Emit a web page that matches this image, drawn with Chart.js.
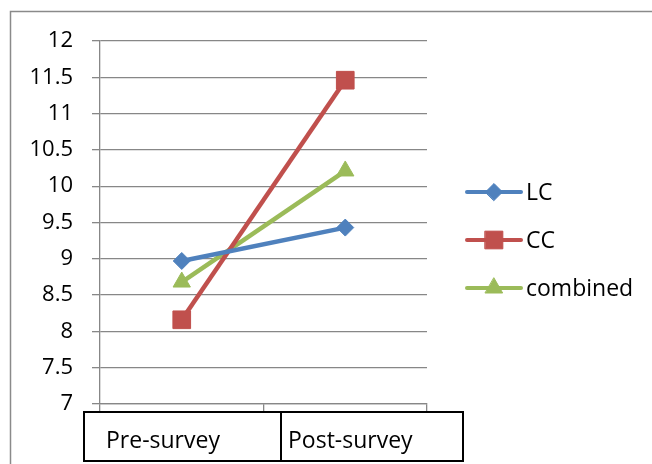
<!DOCTYPE html>
<html>
<head>
<meta charset="utf-8">
<script src="https://cdn.jsdelivr.net/npm/chart.js@4/dist/chart.umd.min.js"></script>
<style>
  html, body { margin: 0; padding: 0; background: #fff; }
  #wrap { width: 652px; height: 464px; position: relative; }
</style>
</head>
<body>
<div id="wrap"><canvas id="chart"></canvas></div>
<script>
// Survey scores, pre vs post
const categories = ['Pre-survey', 'Post-survey'];
const lcValues = [8.97, 9.43];
const ccValues = [8.16, 11.46];
const combinedValues = [8.68, 10.21];
const seriesNames = ['LC', 'CC', 'combined'];
const yMin = 7;
const yMax = 12;
const yStep = 0.5;

const FONT = '"Open Sans", "Noto Sans", sans-serif';
const GRID = '#878787';

// outer frame + category table under the axis
const framePlugin = {
  id: 'frame',
  afterDraw(chart) {
    const ctx = chart.ctx;
    const x = chart.scales.x;
    ctx.save();
    ctx.strokeStyle = '#8a8a8a';
    ctx.lineWidth = 1.5;
    ctx.beginPath();
    ctx.moveTo(10.5, chart.height + 2);
    ctx.lineTo(10.5, 11.5);
    ctx.lineTo(chart.width + 2, 11.5);
    ctx.stroke();

    // table with category names
    const top = x.top + 8;
    const left = x.left - 16;
    const mid = x.left + 181;
    const right = x.right + 36;
    const bottom = chart.height - 3;
    ctx.strokeStyle = '#000';
    ctx.lineWidth = 2;
    ctx.strokeRect(left, top, right - left, bottom - top);
    ctx.beginPath();
    ctx.moveTo(mid, top);
    ctx.lineTo(mid, bottom);
    ctx.stroke();
    ctx.fillStyle = '#000';
    ctx.font = '23px ' + FONT;
    ctx.textBaseline = 'alphabetic';
    ctx.textAlign = 'left';
    ctx.fillText(categories[0], left + 22, top + 36);
    ctx.fillText(categories[1], mid + 7, top + 36);
    ctx.restore();
  }
};

// legend with line + marker like the office style
const legendPlugin = {
  id: 'sideLegend',
  afterDraw(chart) {
    const ctx = chart.ctx;
    const x0 = chart.chartArea.right + 40;
    const x1 = x0 + 54;
    const yStart = 192;
    const gap = 48;
    ctx.save();
    chart.data.datasets.forEach((ds, i) => {
      const y = yStart + i * gap;
      ctx.strokeStyle = ds.borderColor;
      ctx.lineWidth = 4;
      ctx.lineCap = 'round';
      ctx.beginPath();
      ctx.moveTo(x0, y);
      ctx.lineTo(x1, y);
      ctx.stroke();
      ctx.fillStyle = ds.pointBackgroundColor;
      ctx.strokeStyle = ds.pointBorderColor;
      ctx.lineWidth = 1;
      Chart.helpers.drawPoint(ctx, {
        pointStyle: ds.pointStyle,
        radius: ds.pointRadius,
        rotation: 0,
        borderWidth: 1
      }, (x0 + x1) / 2, y);
      ctx.fillStyle = '#000';
      ctx.font = '23px ' + FONT;
      ctx.textAlign = 'left';
      ctx.textBaseline = 'middle';
      ctx.fillText(ds.label, x1 + 5, y + 1);
    });
    ctx.restore();
  }
};

function makeSet(label, data, color, style, radius) {
  return {
    label: label,
    data: data,
    borderColor: color,
    backgroundColor: color,
    borderWidth: 4.5,
    tension: 0,
    pointStyle: style,
    pointRadius: radius,
    pointHoverRadius: radius,
    pointBackgroundColor: color,
    pointBorderColor: color,
    pointBorderWidth: 1
  };
}

const ctx = document.getElementById('chart');
new Chart(ctx, {
  type: 'line',
  data: {
    labels: categories,
    datasets: [
      makeSet(seriesNames[0], lcValues, '#4F81BD', 'rectRot', 8.5),
      makeSet(seriesNames[1], ccValues, '#C0504D', 'rect', 12.5),
      makeSet(seriesNames[2], combinedValues, '#9BBB59', 'triangle', 10)
    ]
  },
  options: {
    responsive: true,
    maintainAspectRatio: false,
    animation: false,
    layout: { padding: { left: 0, top: 41, right: 225, bottom: 0 } },
    plugins: {
      legend: { display: false },
      tooltip: { enabled: false }
    },
    scales: {
      x: {
        offset: true,
        afterFit: (scale) => { scale.height = 60; },
        ticks: { display: false },
        grid: {
          offset: true,
          drawOnChartArea: false,
          drawTicks: true,
          tickLength: 8,
          color: GRID,
          lineWidth: 1.3
        },
        border: { display: true, color: GRID, width: 1.3 }
      },
      y: {
        min: yMin,
        max: yMax,
        afterFit: (scale) => { scale.width = 100; },
        ticks: {
          stepSize: yStep,
          color: '#000',
          padding: 19,
          font: { family: FONT, size: 22 },
          callback: (value) => String(Number(value.toFixed(1)))
        },
        grid: {
          color: GRID,
          lineWidth: 1.3,
          tickLength: 8
        },
        border: { display: true, color: GRID, width: 1.3 }
      }
    }
  },
  plugins: [framePlugin, legendPlugin]
});
</script>
</body>
</html>
